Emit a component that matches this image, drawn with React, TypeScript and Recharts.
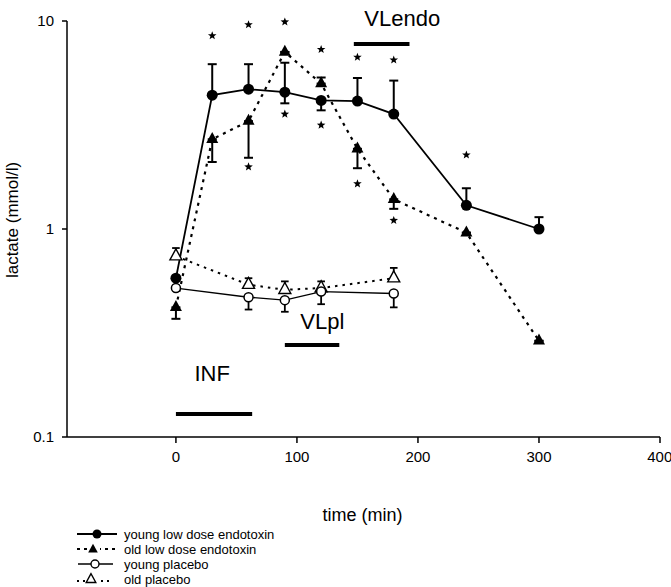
import React from 'react';
import {
  ComposedChart, Line, Scatter, XAxis, YAxis, ErrorBar, ReferenceLine, ReferenceDot, Legend,
} from 'recharts';

// ---- data ----
const youngEndoTimes = [0, 30, 60, 90, 120, 150, 180, 240, 300];
const youngEndoValues = [0.58, 4.4, 4.7, 4.55, 4.15, 4.12, 3.57, 1.3, 1.0];
const youngEndoErrLow = [0, 0, 0, 0.53, 0.43, 0, 0, 0, 0];
const youngEndoErrHigh = [0, 1.8, 1.5, 1.75, 0, 1.2, 1.6, 0.27, 0.14];

const oldEndoTimes = [0, 30, 60, 90, 120, 150, 180, 240, 300];
const oldEndoValues = [0.42, 2.7, 3.3, 7.1, 5.0, 2.43, 1.39, 0.96, 0.29];
const oldEndoErrLow = [0.05, 0.6, 1.1, 0, 0, 0.47, 0.14, 0, 0];
const oldEndoErrHigh = [0, 0, 0, 0, 0.35, 0, 0, 0, 0];

const youngPlaTimes = [0, 60, 90, 120, 180];
const youngPlaValues = [0.52, 0.47, 0.455, 0.5, 0.49];
const youngPlaErrLow = [0, 0.06, 0.055, 0.065, 0.07];
const youngPlaErrHigh = [0, 0, 0, 0, 0];

const oldPlaTimes = [0, 60, 90, 120, 180];
const oldPlaValues = [0.74, 0.54, 0.51, 0.52, 0.58];
const oldPlaErrLow = [0, 0, 0, 0, 0];
const oldPlaErrHigh = [0.07, 0.04, 0.05, 0.04, 0.07];

const starTimes = [30, 60, 90, 90, 120, 120, 60, 150, 180, 150, 180, 240];
const starValues = [8.5, 9.6, 9.9, 3.57, 7.3, 3.16, 1.99, 6.7, 6.5, 1.65, 1.1, 2.27];

const barLabels = ['INF', 'VLpl', 'VLendo'];
const barStart = [0, 90, 147];
const barEnd = [63, 135, 193];
const barLevel = [0.129, 0.277, 7.75];
const labelTimes = [30, 121, 187];
const labelValues = [0.203, 0.361, 10.3];

const xTicks = [0, 100, 200, 300, 400];
const yTicks = [0.1, 1, 10];

const legendNames = ['young low dose endotoxin', 'old low dose endotoxin', 'young placebo', 'old placebo'];

// ---- build ----
const build = (t: number[], v: number[], lo: number[], hi: number[]) =>
  t.map((x, i) => ({ t: x, v: v[i], err: [lo[i], hi[i]] }));

const youngEndo = build(youngEndoTimes, youngEndoValues, youngEndoErrLow, youngEndoErrHigh);
const oldEndo = build(oldEndoTimes, oldEndoValues, oldEndoErrLow, oldEndoErrHigh);
const youngPla = build(youngPlaTimes, youngPlaValues, youngPlaErrLow, youngPlaErrHigh);
const oldPla = build(oldPlaTimes, oldPlaValues, oldPlaErrLow, oldPlaErrHigh);
const stars = starTimes.map((t, i) => ({ t, v: starValues[i] }));

const FONT = '"Liberation Sans", Arial, sans-serif';

const triPath = (cx: number, cy: number, s = 1) =>
  `M${cx},${cy - 7.3 * s} L${cx - 6 * s},${cy + 3.7 * s} L${cx + 6 * s},${cy + 3.7 * s} Z`;

const filledCircle = (p: any) =>
  p.cx == null ? <g key={`fc${p.index}`} /> : <circle key={`fc${p.index}`} cx={p.cx} cy={p.cy} r={5.5} fill="#000" />;
const openCircle = (p: any) =>
  p.cx == null ? <g key={`oc${p.index}`} /> : <circle key={`oc${p.index}`} cx={p.cx} cy={p.cy} r={4.5} fill="#fff" stroke="#000" strokeWidth={1.5} />;
const filledTri = (p: any) =>
  p.cx == null ? <g key={`ft${p.index}`} /> : <path key={`ft${p.index}`} d={triPath(p.cx, p.cy)} fill="#000" />;
const openTri = (p: any) =>
  p.cx == null ? <g key={`ot${p.index}`} /> : <path key={`ot${p.index}`} d={triPath(p.cx, p.cy)} fill="#fff" stroke="#000" strokeWidth={1.4} />;

const starShape = (p: any) => {
  const { cx, cy } = p;
  const pts: string[] = [];
  for (let i = 0; i < 10; i++) {
    const r = i % 2 === 0 ? 4.5 : 1.9;
    const a = -Math.PI / 2 + (i * Math.PI) / 5;
    pts.push(`${cx + r * Math.cos(a)},${cy + r * Math.sin(a)}`);
  }
  return <polygon points={pts.join(' ')} fill="#000" />;
};

const renderLegend = () => {
  const rowY = [7, 22, 37, 52];
  return (
    <svg width={320} height={59} style={{ fontFamily: FONT, overflow: 'visible' }}>
      {/* row 1 */}
      <line x1={7} x2={47} y1={rowY[0]} y2={rowY[0]} stroke="#000" strokeWidth={1.8} />
      <circle cx={27} cy={rowY[0]} r={4.5} fill="#000" />
      {/* row 2 */}
      <line x1={7} x2={45} y1={rowY[1]} y2={rowY[1]} stroke="#000" strokeWidth={1.8} strokeDasharray="3 4" />
      <rect x={17} y={rowY[1] - 5} width={13} height={10} fill="#fff" />
      <path d={triPath(23, rowY[1] + 0.5, 0.8)} fill="#000" />
      {/* row 3 */}
      <line x1={8} x2={43} y1={rowY[2]} y2={rowY[2]} stroke="#000" strokeWidth={1.4} />
      <circle cx={25} cy={rowY[2]} r={4} fill="#fff" stroke="#000" strokeWidth={1.4} />
      {/* row 4 */}
      <line x1={7} x2={41} y1={rowY[3] + 2} y2={rowY[3] + 2} stroke="#000" strokeWidth={1.8} strokeDasharray="2 4" />
      <rect x={15} y={rowY[3] - 5} width={12} height={10} fill="#fff" />
      <path d={triPath(21, rowY[3] + 0.5, 0.8)} fill="#fff" stroke="#000" strokeWidth={1.4} />
      {legendNames.map((n, i) => (
        <text key={n} x={54} y={rowY[i]} dominantBaseline="central" fontSize={13} fill="#000">{n}</text>
      ))}
    </svg>
  );
};

const yLabel = (props: any) => {
  const vb = props.viewBox;
  const x = vb.x + 18;
  const y = vb.y + vb.height / 2 - 9;
  return (
    <text x={x} y={y} transform={`rotate(-90, ${x}, ${y})`} textAnchor="middle" fontSize={17} fill="#000" fontFamily={FONT}>
      lactate (mmol/l)
    </text>
  );
};

const xLabel = (props: any) => {
  const vb = props.viewBox;
  return (
    <text x={vb.x + vb.width / 2 - 1} y={vb.y + 84} textAnchor="middle" fontSize={18} fill="#000" fontFamily={FONT}>
      time (min)
    </text>
  );
};

const fmt = (v: number) => (v === 0.1 ? '0.1' : String(v));

export default function App() {
  return (
    <div style={{ position: 'absolute', left: 0, top: 0, width: 671, height: 587, background: '#fff' }}>
      <ComposedChart
        width={671}
        height={587}
        margin={{ top: 21, right: 11, bottom: 60, left: 0 }}
        style={{ fontFamily: FONT }}
      >
        <XAxis
          dataKey="t"
          type="number"
          domain={[-90, 400]}
          ticks={xTicks}
          allowDataOverflow
          height={90}
          stroke="#000"
          strokeWidth={1.5}
          tickSize={6}
          tickMargin={8}
          tick={{ fontSize: 15, fill: '#000' }}
          label={xLabel}
        />
        <YAxis
          type="number"
          scale="log"
          domain={[0.1, 10]}
          ticks={yTicks}
          width={67}
          stroke="#000"
          strokeWidth={1.5}
          tickSize={5}
          tickMargin={8}
          tickFormatter={fmt}
          tick={{ fontSize: 15, fill: '#000' }}
          label={yLabel}
        />
        <Legend
          content={renderLegend}
          layout="vertical"
          align="center"
          verticalAlign="middle"
          wrapperStyle={{ position: 'absolute', left: 70, top: 527, width: 320, height: 59 }}
        />
        {barLabels.map((b, i) => (
          <ReferenceLine
            key={b}
            segment={[{ x: barStart[i], y: barLevel[i] }, { x: barEnd[i], y: barLevel[i] }]}
            stroke="#000"
            strokeWidth={4}
            ifOverflow="visible"
          />
        ))}
        {barLabels.map((b, i) => (
          <ReferenceDot
            key={`l${b}`}
            x={labelTimes[i]}
            y={labelValues[i]}
            r={0}
            fill="none"
            stroke="none"
            ifOverflow="visible"
            label={{ value: b, position: 'center', fontSize: 22, fill: '#000' }}
          />
        ))}
        <Line data={oldPla} dataKey="v" type="linear" stroke="#000" strokeWidth={2} strokeDasharray="2.5 5"
          dot={openTri} activeDot={false} isAnimationActive={false} legendType="none">
          <ErrorBar dataKey="err" direction="y" width={3.8} stroke="#000" strokeWidth={1.8} isAnimationActive={false} />
        </Line>
        <Line data={youngPla} dataKey="v" type="linear" stroke="#000" strokeWidth={1.4}
          dot={openCircle} activeDot={false} isAnimationActive={false} legendType="none">
          <ErrorBar dataKey="err" direction="y" width={3.8} stroke="#000" strokeWidth={1.8} isAnimationActive={false} />
        </Line>
        <Line data={oldEndo} dataKey="v" type="linear" stroke="#000" strokeWidth={2.2} strokeDasharray="3 5"
          dot={filledTri} activeDot={false} isAnimationActive={false} legendType="none">
          <ErrorBar dataKey="err" direction="y" width={4.5} stroke="#000" strokeWidth={2} isAnimationActive={false} />
        </Line>
        <Line data={youngEndo} dataKey="v" type="linear" stroke="#000" strokeWidth={1.8}
          dot={filledCircle} activeDot={false} isAnimationActive={false} legendType="none">
          <ErrorBar dataKey="err" direction="y" width={4.5} stroke="#000" strokeWidth={2} isAnimationActive={false} />
        </Line>
        <Scatter data={stars} dataKey="v" shape={starShape} isAnimationActive={false} legendType="none" />
      </ComposedChart>
    </div>
  );
}
